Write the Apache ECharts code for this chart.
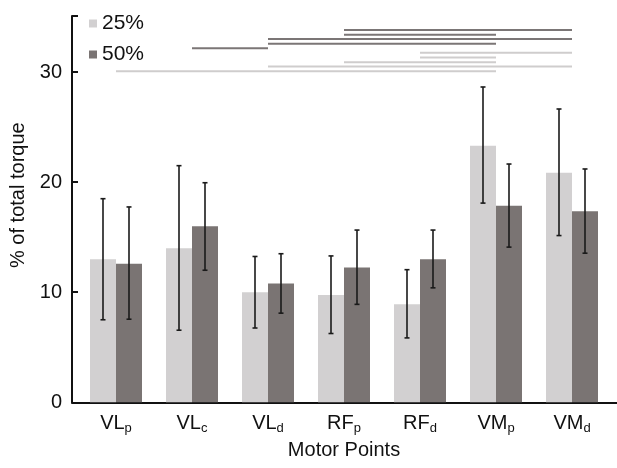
<!DOCTYPE html>
<html>
<head>
<meta charset="utf-8">
<script src="https://cdn.jsdelivr.net/npm/echarts@6/dist/echarts.min.js"></script>
<style>html,body{margin:0;padding:0;background:#fff;}#c{width:617px;height:468px;}</style>
</head>
<body>
<div id="c"></div>
<script>
var categories = ['VL_p', 'VL_c', 'VL_d', 'RF_p', 'RF_d', 'VM_p', 'VM_d'];
var yTicks = [0, 10, 20, 30];
var seriesNames = ['25%', '50%'];
var values25 = [13.0, 14.0, 10.0, 9.75, 8.9, 23.3, 20.85];
var values50 = [12.6, 16.0, 10.8, 12.25, 13.0, 17.85, 17.35];
var errLow25 = [7.5, 6.55, 6.75, 6.25, 5.85, 18.1, 15.15];
var errHigh25 = [18.5, 21.5, 13.25, 13.3, 12.05, 28.65, 26.65];
var errLow50 = [7.55, 12.0, 8.1, 8.9, 10.4, 14.1, 13.55];
var errHigh50 = [17.75, 19.95, 13.5, 15.65, 15.65, 21.65, 21.2];
// significance brackets: [from group, to group, level]
var sig50 = [[3, 6, 33.82], [3, 5, 33.4], [2, 6, 33.0], [2, 5, 32.58], [1, 2, 32.18]];
var sig25 = [[4, 6, 31.75], [4, 5, 31.33], [3, 5, 30.9], [2, 6, 30.51], [0, 5, 30.09]];

var LIGHT = '#d2d0d1', DARK = '#7a7473';
var FONT = 'Liberation Sans, Arial, Helvetica, sans-serif';
var BAR_W = 26;

function errSeries(name, low, high, sign) {
  return {
    name: name, type: 'custom', xAxisIndex: 0, yAxisIndex: 0, z: 5,
    data: low.map(function (l, i) { return [i, l, high[i]]; }),
    renderItem: function (params, api) {
      var i = api.value(0);
      var p1 = api.coord([i, api.value(1)]);
      var p2 = api.coord([i, api.value(2)]);
      var x = p1[0] + sign * BAR_W / 2;
      var st = { stroke: '#1a1a1a', lineWidth: 1.6 };
      return { type: 'group', children: [
        { type: 'line', shape: { x1: x, y1: p1[1], x2: x, y2: p2[1] }, style: st },
        { type: 'line', shape: { x1: x - 2.5, y1: p1[1], x2: x + 2.5, y2: p1[1] }, style: st },
        { type: 'line', shape: { x1: x - 2.5, y1: p2[1], x2: x + 2.5, y2: p2[1] }, style: st }
      ]};
    }
  };
}
function sigSeries(name, data, color) {
  return {
    name: name, type: 'custom', xAxisIndex: 0, yAxisIndex: 0, z: 4,
    data: data,
    encode: { x: [0, 1], y: 2 },
    renderItem: function (params, api) {
      var a = api.coord([api.value(0), api.value(2)]);
      var b = api.coord([api.value(1), api.value(2)]);
      return { type: 'line', shape: { x1: a[0], y1: a[1], x2: b[0], y2: b[1] },
        style: { stroke: color, lineWidth: 2 } };
    }
  };
}

var chart = echarts.init(document.getElementById('c'), null, { renderer: 'canvas' });
chart.setOption({
  animation: false,
  backgroundColor: '#fff',
  textStyle: { fontFamily: FONT },
  legend: {
    data: seriesNames, orient: 'vertical', left: 84, top: 8,
    itemWidth: 8, itemHeight: 8, itemGap: 10, icon: 'rect',
    textStyle: { fontSize: 21, color: '#111', fontFamily: FONT }
  },
  grid: [
    { left: 78, right: 7, top: 16, bottom: 65.7 },
    { left: 70, right: 0, top: 16, bottom: 65.7 }
  ],
  xAxis: [
    { type: 'category', gridIndex: 0, data: categories,
      axisLine: { show: false }, axisTick: { show: false },
      axisLabel: {
        interval: 0, margin: 9, color: '#111',
        formatter: function (v) { var p = v.split('_'); return '{a|' + p[0] + '}{s|' + p[1] + '}'; },
        rich: {
          a: { fontSize: 20, lineHeight: 24, fontFamily: FONT, color: '#111' },
          s: { fontSize: 13, lineHeight: 6, verticalAlign: 'bottom', fontFamily: FONT, color: '#111' }
        }
      },
      name: 'Motor Points', nameLocation: 'middle', nameGap: 30,
      nameTextStyle: { fontSize: 20, color: '#111', fontFamily: FONT }
    },
    { type: 'value', gridIndex: 1, min: 0, max: 1,
      axisLine: { show: true, lineStyle: { color: '#111', width: 2 } },
      axisTick: { show: false }, axisLabel: { show: false }, splitLine: { show: false } }
  ],
  yAxis: [
    { type: 'value', gridIndex: 0, min: 0, max: 35.1, show: false },
    { type: 'value', gridIndex: 1, min: 0, max: 35.1, interval: 10,
      axisLine: { show: true, lineStyle: { color: '#111', width: 2 } },
      axisTick: { show: true, inside: true, length: 6, lineStyle: { color: '#111', width: 2 } },
      axisLabel: { margin: 10, fontSize: 20, color: '#111', fontFamily: FONT,
        formatter: function (v) { return yTicks.indexOf(v) >= 0 ? String(v) : ''; } },
      splitLine: { show: false },
      name: '% of total torque', nameLocation: 'middle', nameGap: 44,
      nameTextStyle: { fontSize: 20, color: '#111', fontFamily: FONT, padding: [0, 0, 0, 28] }
    }
  ],
  series: [
    { name: seriesNames[0], type: 'bar', xAxisIndex: 0, yAxisIndex: 0, data: values25,
      barWidth: BAR_W, barGap: '0%', itemStyle: { color: LIGHT } },
    { name: seriesNames[1], type: 'bar', xAxisIndex: 0, yAxisIndex: 0, data: values50,
      barWidth: BAR_W, barGap: '0%', itemStyle: { color: DARK } },
    errSeries('err25', errLow25, errHigh25, -1),
    errSeries('err50', errLow50, errHigh50, 1),
    sigSeries('sig50', sig50, '#7b7676'),
    sigSeries('sig25', sig25, '#cfcdcd')
  ]
});
</script>
</body>
</html>
